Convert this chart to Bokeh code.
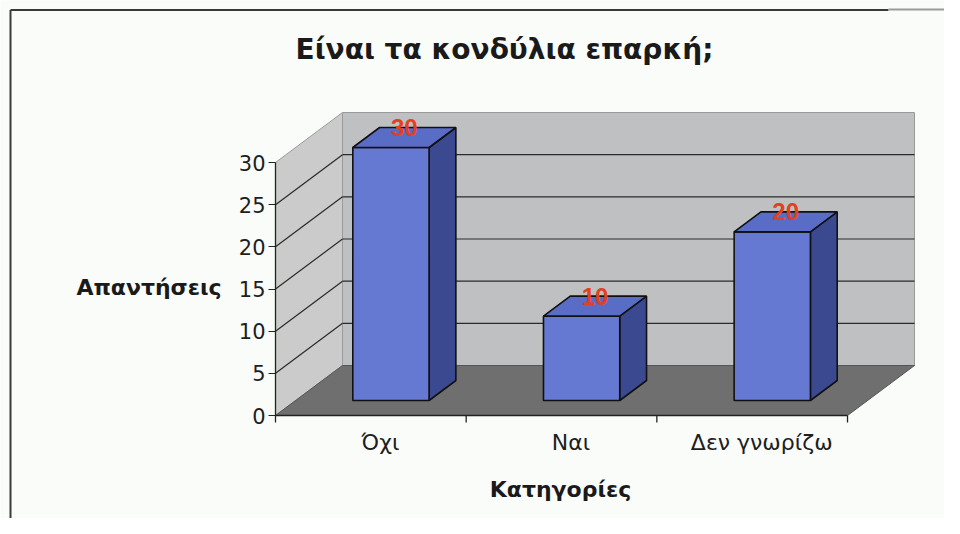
from bokeh.plotting import figure
from bokeh.models import LinearAxis, FixedTicker, Label, ColumnDataSource, CustomJSTickFormatter
from bokeh.embed import file_html
from bokeh.resources import INLINE
from bokeh.core.properties import value

# ---- data ----
title_text = "Είναι τα κονδύλια επαρκή;"
categories = ["Όχι", "Ναι", "Δεν γνωρίζω"]
answers = [30, 10, 20]
y_ticks = [0, 5, 10, 15, 20, 25, 30]
y_title = "Απαντήσεις"
x_title = "Κατηγορίες"

# ---- layout / style ----
W, H = 944, 518
PX_X = 190.67      # pixels per category
PX_Y = 8.433       # pixels per answer
ORIGIN_X = 275     # px (from left) of the front-left corner
ORIGIN_Y = 415     # px (from top) of value 0
DEPTH_PX = (67, 50)
D0, D1 = 0.3, 0.7  # bar depth span
BAR_W = 0.4
LABEL_SHIFT = 0.05
FONT = "DejaVu Sans"

def px_x(px):
    return (px - ORIGIN_X) / PX_X

def px_y(py):
    return (ORIGIN_Y - py) / PX_Y

DX = DEPTH_PX[0] / PX_X
DY = DEPTH_PX[1] / PX_Y
n = len(categories)
top = max(y_ticks)

p = figure(width=W, height=H,
           x_range=(px_x(0), px_x(W)), y_range=(px_y(H), px_y(0)),
           x_axis_type=None, y_axis_type=None,
           toolbar_location=None, output_backend="svg", min_border=0)
p.outline_line_color = None
p.background_fill_color = "#fafcfa"
p.border_fill_color = "#fafcfa"

# outer frame lines of the original image
p.segment(x0=[px_x(10), px_x(10), px_x(888)], y0=[px_y(9.5), px_y(9.5), px_y(9)],
          x1=[px_x(10), px_x(888), px_x(W)], y1=[px_y(H), px_y(9.5), px_y(9)],
          line_color=["#3a3a3a", "#3a3a3a", "#9a9a9a"], line_width=2)

# walls and floor
p.patch([0, DX, DX, 0], [0, DY, top + DY, top], fill_color="#cbcbcb",
        line_color="#9a9a9a", line_width=1)
p.patch([DX, n + DX, n + DX, DX], [DY, DY, top + DY, top + DY], fill_color="#bfc0c1",
        line_color="#9a9a9a", line_width=1)
grid_vals = [v for v in y_ticks if 0 < v < top]
p.segment(x0=[DX] * len(grid_vals), y0=[v + DY for v in grid_vals],
          x1=[n + DX] * len(grid_vals), y1=[v + DY for v in grid_vals],
          line_color="#2a2a2a", line_width=1.2)
p.segment(x0=[0] * len(grid_vals), y0=grid_vals,
          x1=[DX] * len(grid_vals), y1=[v + DY for v in grid_vals],
          line_color="#2a2a2a", line_width=1.2)
p.patch([0, n, n + DX, DX], [0, 0, DY, DY], fill_color="#6f6f6f",
        line_color="#555555", line_width=1)

# category boundary tick marks on the front floor edge
tick_len = 7 / PX_Y
p.segment(x0=list(range(n + 1)), y0=[0] * (n + 1), x1=list(range(n + 1)),
          y1=[-tick_len] * (n + 1), line_color="#222222", line_width=1.3)

# 3D bars
front_x, front_y, top_x, top_y, side_x, side_y = [], [], [], [], [], []
lab_x, lab_y, lab_t = [], [], []
bx, by = (D1 - D0) * DX, (D1 - D0) * DY
for i, v in enumerate(answers):
    c = i + 0.5
    fx0 = c - BAR_W / 2 + D0 * DX
    fx1 = fx0 + BAR_W
    fy0 = D0 * DY
    fy1 = v + D0 * DY
    front_x.append([fx0, fx1, fx1, fx0]); front_y.append([fy0, fy0, fy1, fy1])
    top_x.append([fx0, fx1, fx1 + bx, fx0 + bx]); top_y.append([fy1, fy1, fy1 + by, fy1 + by])
    side_x.append([fx1, fx1 + bx, fx1 + bx, fx1]); side_y.append([fy0, fy0 + by, fy1 + by, fy1])
    lab_x.append(c + (D0 + D1) / 2 * DX); lab_y.append(v + D1 * DY); lab_t.append(str(v))

p.patches(side_x, side_y, fill_color="#3b4a90", line_color="#111111", line_width=1.6)
p.patches(front_x, front_y, fill_color="#6679d2", line_color="#111111", line_width=1.6)
p.patches(top_x, top_y, fill_color="#5a6dc6", line_color="#111111", line_width=1.6)

src = ColumnDataSource(dict(x=lab_x, y=lab_y, t=lab_t))
p.text(x="x", y="y", text="t", source=src, text_align="center", text_baseline="middle",
       text_font=value("Liberation Sans"), text_font_style="bold", text_font_size="24px",
       text_color="#e2401f")

# y axis
yax = LinearAxis(fixed_location=0, bounds=(0, top), ticker=FixedTicker(ticks=y_ticks))
yax.axis_line_color = "#222222"
yax.axis_line_width = 1.3
yax.major_tick_line_color = "#222222"
yax.major_tick_out = 7
yax.major_tick_in = 0
yax.minor_tick_line_color = None
yax.major_label_standoff = 3
yax.major_label_text_font = FONT
yax.major_label_text_font_size = "21px"
yax.major_label_text_color = "#1e1e1e"
p.add_layout(yax, "left")

# x axis: front floor edge with category labels
cax = LinearAxis(fixed_location=0, bounds=(0, n),
                 ticker=FixedTicker(ticks=[i + 0.5 + LABEL_SHIFT for i in range(n)]),
                 formatter=CustomJSTickFormatter(args=dict(cats=categories),
                                                 code="return cats[Math.floor(tick)];"))
cax.axis_line_color = "#222222"
cax.axis_line_width = 1.3
cax.major_tick_line_color = None
cax.major_tick_out = 0
cax.major_tick_in = 0
cax.minor_tick_line_color = None
cax.major_label_standoff = 14
cax.major_label_text_font = FONT
cax.major_label_text_font_size = "22px"
cax.major_label_text_color = "#1e1e1e"
p.add_layout(cax, "below")

# titles
p.add_layout(Label(x=px_x(504), y=px_y(49), text=title_text, text_align="center",
                   text_baseline="middle", text_font=FONT, text_font_style="bold",
                   text_font_size="28px", text_color="#1a1a1a"))
p.add_layout(Label(x=px_x(148.5), y=px_y(287), text=y_title, text_align="center",
                   text_baseline="middle", text_font=FONT, text_font_style="bold",
                   text_font_size="22px", text_color="#1a1a1a"))
p.add_layout(Label(x=px_x(560), y=px_y(489), text=x_title, text_align="center",
                   text_baseline="middle", text_font=FONT, text_font_style="bold",
                   text_font_size="22px", text_color="#1a1a1a"))

open("out.html", "w").write(file_html(p, INLINE))
